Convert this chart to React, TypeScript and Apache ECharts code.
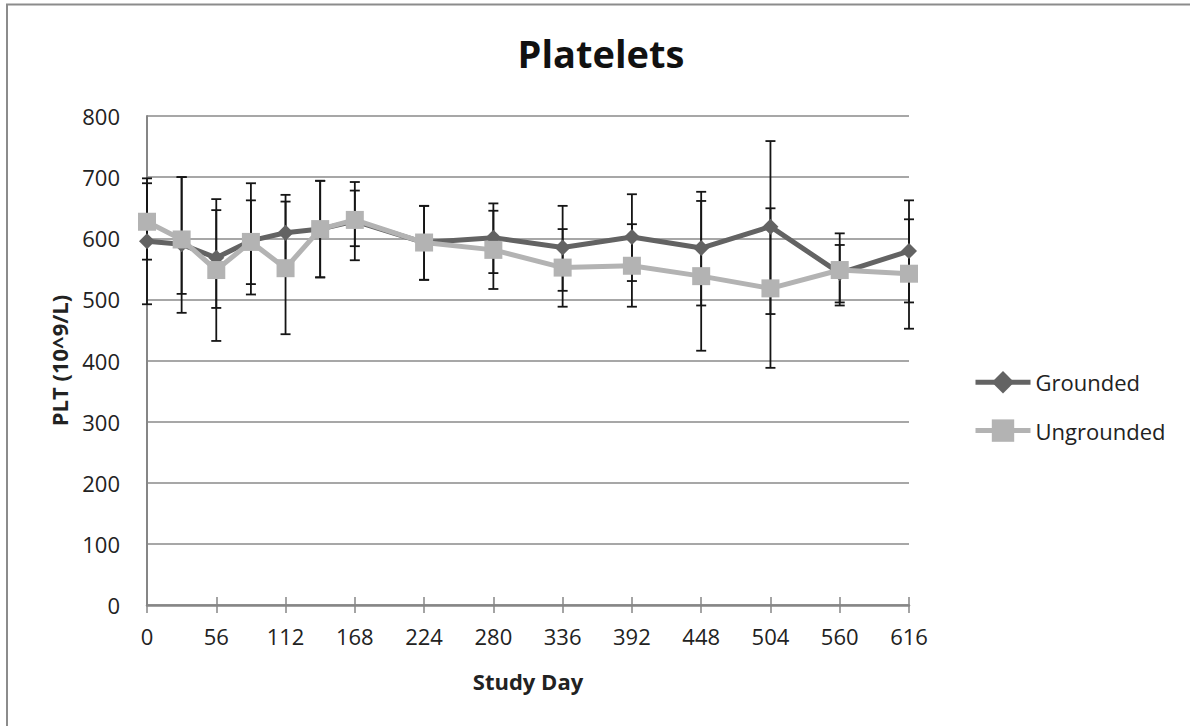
import React, { useEffect, useRef } from "react";
import * as echarts from "echarts";

const studyDays = [0, 28, 56, 84, 112, 140, 168, 224, 280, 336, 392, 448, 504, 560, 616];

const groundedMean = [595, 590, 568, 596, 609, 615, 628, 593, 601, 585, 602, 584, 619, 543, 579];
const groundedLow = [492, 478, 486, 508, 547, 536, 564, 532, 543, 514, 530, 490, 476, 495, 495];
const groundedHigh = [698, 700, 646, 690, 671, 694, 692, 653, 657, 653, 672, 676, 759, 589, 662];

const ungroundedMean = [627, 598, 548, 594, 551, 615, 630, 593, 581, 552, 555, 538, 518, 548, 542];
const ungroundedLow = [565, 509, 432, 525, 443, 536, 587, 532, 517, 488, 488, 416, 388, 490, 452];
const ungroundedHigh = [690, 700, 664, 662, 660, 694, 678, 653, 645, 615, 623, 661, 649, 608, 631];

const FONT = "'Open Sans', sans-serif";

function errorSeries(name: string, lows: number[], highs: number[]) {
  return {
    name,
    type: "custom",
    xAxisIndex: 0,
    yAxisIndex: 0,
    z: 1,
    silent: true,
    encode: { x: 0, y: [1, 2] },
    data: studyDays.map((d, i) => [d, lows[i], highs[i]]),
    renderItem: (params: any, api: any) => {
      const x = api.value(0);
      const lo = api.coord([x, api.value(1)]);
      const hi = api.coord([x, api.value(2)]);
      const w = 5;
      const style = { stroke: "#151515", lineWidth: 1.8 };
      return {
        type: "group",
        children: [
          { type: "line", shape: { x1: lo[0], y1: lo[1], x2: hi[0], y2: hi[1] }, style },
          { type: "line", shape: { x1: lo[0] - w, y1: lo[1], x2: lo[0] + w, y2: lo[1] }, style },
          { type: "line", shape: { x1: hi[0] - w, y1: hi[1], x2: hi[0] + w, y2: hi[1] }, style },
        ],
      };
    },
  };
}

export default function App() {
  const ref = useRef<HTMLDivElement>(null);
  useEffect(() => {
    if (!ref.current) return;
    const chart = echarts.init(ref.current, undefined, { renderer: "svg" });
    chart.setOption({
      animation: false,
      backgroundColor: "#ffffff",
      title: {
        text: "Platelets",
        left: 596,
        top: 29,
        textAlign: "center",
        textStyle: { fontFamily: FONT, fontWeight: "bold", fontSize: 38, color: "#111" },
      },
      grid: { left: 147, top: 116, width: 762, height: 489, containLabel: false },
      legend: {
        data: ["Grounded", "Ungrounded"],
        orient: "vertical",
        left: 973,
        top: 371,
        padding: 0,
        itemWidth: 55,
        itemHeight: 28,
        itemGap: 26,
        lineStyle: { width: 5 },
        textStyle: { fontFamily: FONT, fontSize: 22, color: "#222" },
      },
      xAxis: [
        {
          type: "value",
          min: 0,
          max: 616,
          interval: 56,
          name: "Study Day",
          nameLocation: "middle",
          nameGap: 65,
          nameTextStyle: { fontFamily: FONT, fontWeight: "bold", fontSize: 22, color: "#222" },
          axisLine: { show: true, lineStyle: { color: "#868686", width: 2.5 } },
          axisTick: { show: true, length: 8, lineStyle: { color: "#868686", width: 1.5 } },
          axisLabel: { fontFamily: FONT, fontSize: 22, color: "#222", margin: 20 },
          splitLine: { show: false },
        },
        {
          type: "value",
          min: 0,
          max: 616,
          interval: 56,
          position: "bottom",
          axisLine: { show: false },
          axisTick: { show: true, inside: true, length: 8, lineStyle: { color: "#868686", width: 1.5 } },
          axisLabel: { show: false },
          splitLine: { show: false },
        },
      ],
      yAxis: {
        type: "value",
        min: 0,
        max: 800,
        interval: 100,
        name: "PLT (10^9/L)",
        nameLocation: "middle",
        nameGap: 77,
        nameTextStyle: { fontFamily: FONT, fontWeight: "bold", fontSize: 22, color: "#222" },
        axisLine: { show: true, lineStyle: { color: "#868686", width: 2 } },
        axisTick: { show: false },
        axisLabel: { fontFamily: FONT, fontSize: 22, color: "#222", margin: 27 },
        splitLine: { show: true, lineStyle: { color: "#8a8a8a", width: 1.5 } },
      },
      series: [
        errorSeries("GroundedErr", groundedLow, groundedHigh),
        errorSeries("UngroundedErr", ungroundedLow, ungroundedHigh),
        {
          name: "Grounded",
          type: "line",
          z: 3,
          data: studyDays.map((d, i) => [d, groundedMean[i]]),
          symbol: "diamond",
          symbolSize: 16,
          itemStyle: { color: "#636363" },
          lineStyle: { color: "#636363", width: 5 },
        },
        {
          name: "Ungrounded",
          type: "line",
          z: 4,
          data: studyDays.map((d, i) => [d, ungroundedMean[i]]),
          symbol: "rect",
          symbolSize: 18,
          itemStyle: { color: "#b3b3b3" },
          lineStyle: { color: "#b3b3b3", width: 5 },
        },
      ],
      graphic: [
        { type: "line", shape: { x1: 6, y1: 4.5, x2: 1190, y2: 4.5 }, style: { stroke: "#8c8c8c", lineWidth: 2 } },
        { type: "line", shape: { x1: 7, y1: 4, x2: 7, y2: 726 }, style: { stroke: "#8c8c8c", lineWidth: 2 } },
      ],
    });
    return () => chart.dispose();
  }, []);
  return (
    <div
      ref={ref}
      style={{ position: "absolute", left: 0, top: 0, width: 1190, height: 726 }}
    />
  );
}
